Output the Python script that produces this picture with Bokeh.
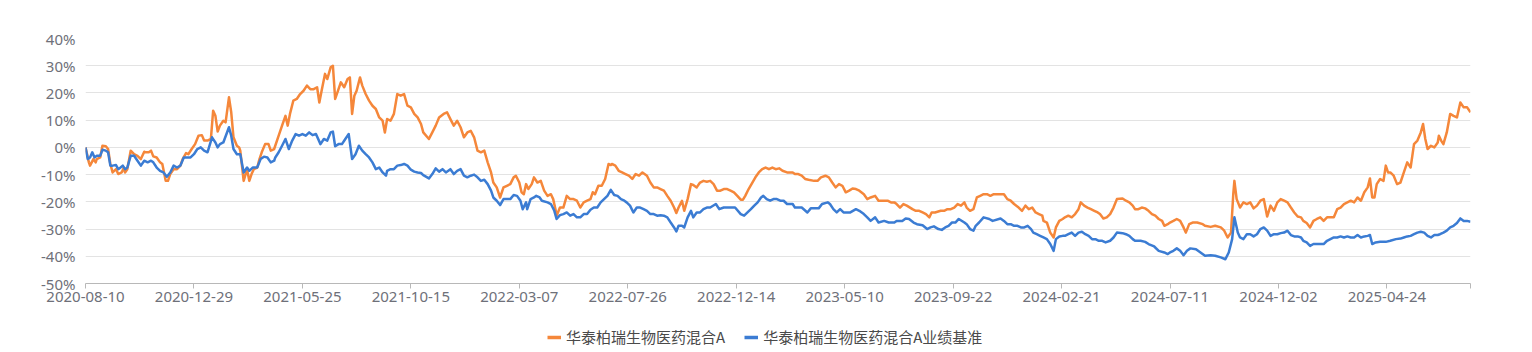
from bokeh.plotting import figure
from bokeh.layouts import column
from bokeh.models import FixedTicker, PrintfTickFormatter, Legend, LegendItem, Range1d
from bokeh.embed import file_html
from bokeh.resources import INLINE

# trading-day index of each reading, and cumulative return (%)
fund_idx = [0, 3, 4, 7, 9, 10, 13, 15, 18, 20, 22, 24, 27, 29, 32, 34, 35, 37, 40, 43, 46, 49, 52, 53, 56, 58, 60, 63, 66, 68, 71, 73, 75, 78, 81, 84, 86, 89, 91, 94, 97, 100, 103, 105, 108, 111, 113, 115, 117, 119, 122, 124, 127, 129, 131, 134, 136, 137, 140, 143, 145, 147, 149, 152, 154, 156, 159, 162, 164, 167,
            171, 174, 177, 179, 181, 184, 187, 190, 193, 196, 199, 202, 205, 207, 209, 212, 214, 217, 219, 221, 223, 226, 229, 232, 234, 236, 238, 240, 243, 245, 248, 251, 254, 257, 260, 263, 265, 267, 270, 273, 276, 279, 282, 285, 288, 291, 294, 297, 299, 304, 307, 310, 313, 317, 320, 323, 326, 329, 332, 335, 338, 341, 344, 347, 350, 353, 356, 359, 361, 364, 367, 370, 373, 376,
            379, 381, 384, 386, 388, 390, 392, 395, 397, 400, 403, 406, 409, 412, 414, 416, 417, 420, 423, 426, 429, 432, 435, 438, 441, 444, 447, 449, 451, 454, 457, 460, 463, 465, 466, 469, 472, 475, 478, 481, 484, 487, 490, 493, 497, 500, 503, 506, 509, 512, 515, 518, 521, 523, 525, 528, 530, 533, 536, 538, 541, 544, 547, 550, 553, 556, 559, 562, 565, 568, 571, 574, 577, 580, 582, 584, 587,
            593, 596, 599, 602, 605, 608, 611, 614, 617, 621, 626, 628, 631, 634, 637, 640, 645, 648, 651, 655, 658, 661, 664, 667, 670, 673, 676, 679, 682, 685, 689, 692, 695, 699, 702, 705, 710, 713, 716, 718, 721, 724, 727, 732, 735, 738, 741, 744, 747, 749, 752, 757, 760, 763, 766, 769, 772, 775, 778, 780, 783, 786, 789, 792, 795, 798, 801,
            804, 807, 810, 813, 816, 819, 822, 826, 829, 832, 835, 838, 841, 844, 847, 848, 851, 854, 857, 859, 862, 865, 867, 870, 873, 876, 879, 881, 884, 887, 890, 893, 896, 898, 901, 904, 907, 910, 913, 918, 921, 924, 927, 929, 932, 935, 938, 941, 944, 947, 950, 953, 955, 958, 960, 963, 966, 969, 972, 974, 977, 980, 984, 989, 991, 996, 1000, 1005, 1008, 1011, 1014,
            1016, 1017, 1019, 1022, 1025, 1028, 1031, 1034, 1037, 1040, 1043, 1046, 1049, 1052, 1055, 1058, 1061, 1064, 1067, 1070, 1073, 1076, 1078, 1081, 1084, 1087, 1090, 1093, 1096, 1099, 1102, 1105, 1108, 1111, 1114, 1117, 1120, 1123, 1126, 1129, 1132, 1135, 1137, 1139, 1141, 1143, 1146, 1149, 1151, 1153, 1155, 1158, 1161, 1164, 1167, 1170, 1173, 1176, 1179, 1182, 1184, 1186, 1188, 1191, 1194, 1197, 1198, 1200, 1202, 1205, 1208, 1211, 1214, 1217, 1220, 1223, 1226]
fund_pct = [0.0, -5.5, -6.7, -4.3, -5.5, -4.3, -3.7, 0.6, 0.4, -0.6, -6.1, -9.2, -8.0, -9.8, -9.2, -7.4, -9.2, -8.0, -1.2, -2.5, -3.1, -4.3, -1.6, -1.8, -1.8, -1.2, -3.3, -3.7, -5.5, -6.1, -12.3, -12.3, -9.8, -8.0, -8.0, -6.7, -4.3, -2.1, -2.5, -0.6, 1.2, 4.3, 4.5, 2.5, 2.5, 3.1, 13.5, 11.6, 5.8, 8.0, 9.8, 9.2, 18.4, 12.9, 3.7, 0.6, 0.0, -1.2, -12.3, -8.0, -12.3, -9.8, -8.0, -7.4, -4.3, -1.8, 1.2, 1.2, -1.2, -0.6,
            4.3, 8.0, 11.6, 8.0, 12.3, 17.2, 17.8, 19.6, 20.8, 22.7, 21.4, 21.4, 22.1, 16.5, 20.8, 27.0, 25.1, 29.4, 30.0, 17.8, 20.2, 23.9, 22.1, 25.1, 25.7, 12.3, 19.0, 20.8, 25.7, 22.7, 19.6, 17.2, 15.3, 14.1, 11.0, 9.8, 5.5, 10.4, 9.8, 12.3, 19.6, 19.0, 19.6, 15.3, 14.7, 12.3, 11.0, 8.6, 5.5, 3.1, 5.5, 8.0, 11.0, 12.3, 12.9, 10.4, 8.0, 9.8, 7.4, 3.7, 5.5, 6.1, 3.7, -1.2, -1.8, -1.2, -5.5, -9.2, -12.9, -14.7, -18.4, -14.7, -14.1, -13.5,
            -11.0, -10.4, -12.9, -16.5, -17.2, -13.5, -15.3, -13.5, -11.0, -12.9, -12.3, -15.9, -17.8, -17.2, -19.0, -22.7, -25.1, -22.1, -22.1, -17.8, -19.0, -19.0, -19.6, -22.1, -20.2, -19.6, -19.0, -16.5, -17.2, -14.1, -14.1, -11.6, -6.1, -6.5, -6.1, -6.7, -8.6, -9.2, -9.8, -10.4, -11.6, -9.8, -10.4, -9.2, -10.4, -12.9, -14.7, -14.7, -15.3, -15.9, -17.8, -19.6, -22.1, -24.1, -22.1, -19.6, -23.3, -19.0, -13.5, -13.8, -14.7, -12.9, -12.3, -12.6, -12.3, -13.5, -15.9, -15.9, -15.3, -15.3, -15.9, -16.5, -17.8, -19.2, -19.2, -17.8, -15.3,
            -11.0, -9.2, -8.0, -7.4, -8.0, -7.4, -8.0, -7.7, -8.6, -9.2, -9.2, -9.8, -9.8, -10.4, -11.6, -11.9, -12.3, -12.3, -11.0, -10.4, -11.0, -12.9, -14.7, -13.5, -14.1, -16.5, -15.9, -15.1, -15.3, -15.9, -17.2, -19.0, -18.4, -17.8, -19.6, -19.6, -19.6, -20.2, -20.2, -20.8, -22.1, -20.8, -21.4, -22.7, -23.3, -23.3, -23.9, -24.5, -25.7, -23.9, -23.9, -23.3, -23.3, -22.7, -22.7, -22.1, -20.8, -21.4, -20.2, -22.1, -23.3, -22.7, -18.4, -17.8, -17.2, -17.2, -17.8,
            -17.2, -17.2, -17.2, -17.2, -19.0, -19.6, -20.8, -22.1, -23.3, -21.4, -22.7, -22.1, -23.9, -24.5, -25.1, -27.0, -27.6, -31.3, -33.1, -29.4, -27.0, -26.3, -25.7, -25.1, -25.7, -24.5, -22.7, -20.2, -21.4, -22.1, -22.7, -23.3, -23.9, -24.5, -26.1, -25.7, -24.5, -22.1, -19.0, -18.8, -19.6, -20.2, -21.4, -22.7, -22.7, -22.1, -22.4, -23.3, -24.5, -25.1, -26.3, -27.0, -28.8, -28.2, -27.6, -27.0, -26.3, -27.0, -29.4, -31.3, -28.2, -27.6, -27.6, -28.2, -28.8, -29.2, -28.8, -29.4, -30.6, -33.1, -31.3,
            -17.2, -12.3, -19.0, -22.1, -20.2, -20.8, -20.2, -22.4, -21.4, -19.6, -19.0, -25.4, -21.4, -23.3, -20.2, -19.0, -19.6, -20.2, -22.1, -23.9, -25.4, -25.7, -27.0, -27.8, -29.4, -27.0, -26.3, -25.7, -27.0, -25.7, -25.7, -25.7, -22.7, -22.1, -20.8, -20.2, -19.6, -20.2, -18.4, -19.6, -16.5, -14.7, -11.4, -18.4, -18.4, -13.5, -11.6, -12.3, -6.7, -9.2, -9.2, -10.4, -13.5, -12.9, -9.2, -5.5, -7.4, 1.2, 2.5, 5.5, 8.6, 3.1, -0.6, 0.6, 0.0, 1.8, 4.3, 2.5, 1.2, 5.5, 12.3, 11.6, 11.0, 16.5, 14.7, 14.7, 12.9]

bench_idx = [0, 2, 4, 6, 8, 10, 13, 15, 18, 20, 22, 24, 27, 29, 31, 33, 35, 37, 40, 43, 46, 49, 52, 55, 58, 60, 63, 66, 69, 72, 75, 78, 81, 84, 87, 90, 93, 96, 99, 102, 105, 108, 112, 115, 117, 119, 122, 127, 129, 131, 134, 137, 140, 143, 145, 148, 152, 155, 158, 161, 164, 167,
             168, 171, 174, 177, 180, 183, 186, 189, 192, 195, 198, 201, 204, 208, 211, 214, 217, 219, 221, 224, 227, 230, 233, 236, 239, 242, 245, 248, 251, 254, 257, 260, 263, 266, 267, 270, 273, 276, 279, 282, 285, 288, 291, 294, 297, 299, 304, 307, 310, 313, 316, 319, 323, 326, 329, 332, 335, 338, 341, 344, 347, 350, 353, 356, 359, 361, 364, 367, 370, 373, 376,
             379, 382, 385, 387, 390, 391, 394, 397, 399, 402, 404, 409, 412, 415, 417, 420, 423, 426, 429, 432, 435, 438, 441, 444, 447, 450, 453, 456, 459, 462, 465, 468, 471, 474, 477, 479, 482, 485, 488, 491, 494, 497, 500, 503, 506, 509, 512, 515, 518, 521, 523, 525, 528, 530, 533, 536, 538, 541, 544, 547, 550, 553, 558, 561, 565, 571, 575, 580, 583, 586, 589,
             592, 595, 598, 600, 603, 606, 609, 612, 615, 618, 621, 626, 628, 631, 634, 639, 642, 645, 649, 652, 657, 659, 662, 665, 668, 671, 674, 677, 682, 685, 689, 692, 695, 699, 702, 707, 711, 716, 718, 723, 726, 729, 733, 736, 741, 745, 748, 751, 755, 758, 761, 764, 767, 770, 773, 778, 780, 783, 786, 788, 791, 795, 800, 803,
             810, 813, 816, 819, 822, 825, 828, 831, 834, 837, 839, 842, 845, 848, 851, 854, 857, 859, 862, 865, 867, 870, 873, 876, 879, 882, 885, 888, 891, 894, 897, 900, 903, 907, 910, 913, 918, 921, 924, 927, 929, 934, 938, 941, 946, 950, 955, 958, 960, 963, 966, 969, 972, 975, 978, 983, 987, 991, 996, 1000, 1005, 1009, 1012, 1015,
             1017, 1020, 1022, 1025, 1028, 1031, 1034, 1037, 1040, 1043, 1046, 1049, 1052, 1055, 1058, 1061, 1064, 1067, 1070, 1073, 1076, 1078, 1081, 1084, 1087, 1090, 1093, 1096, 1099, 1102, 1105, 1108, 1111, 1114, 1117, 1120, 1123, 1126, 1129, 1132, 1135, 1137, 1139, 1142, 1146, 1151, 1155, 1160, 1164, 1167, 1170, 1173, 1176, 1179, 1182, 1185, 1188, 1191, 1194, 1197, 1199, 1202, 1205, 1208, 1211, 1214, 1217, 1220, 1223, 1226]
bench_pct = [0.0, -4.3, -3.7, -1.8, -3.7, -3.1, -3.1, -0.9, -1.2, -1.8, -6.7, -6.7, -6.5, -8.0, -7.4, -6.7, -8.0, -7.4, -3.1, -3.1, -4.9, -6.7, -4.9, -5.5, -4.9, -5.5, -7.4, -8.6, -9.2, -10.8, -9.2, -6.7, -7.4, -6.7, -3.7, -3.7, -3.7, -2.5, -0.6, 0.0, -1.2, -1.8, 3.7, 1.8, 0.0, 1.2, 1.8, 7.4, 4.3, -0.6, -2.5, -2.5, -9.2, -7.4, -8.6, -7.4, -7.4, -4.3, -3.4, -3.7, -5.5, -4.9,
             -3.7, -1.8, 0.6, 3.1, -0.6, 2.5, 4.9, 4.3, 4.9, 4.3, 5.5, 4.5, 4.9, 1.2, 3.1, 2.5, 5.5, 5.8, 0.4, 1.2, 1.2, 3.1, 4.9, -4.3, -2.5, 0.6, -1.2, -2.5, -3.7, -5.5, -8.0, -7.4, -9.2, -10.4, -8.6, -8.0, -8.0, -6.7, -6.5, -6.1, -6.7, -8.2, -8.9, -9.2, -9.4, -10.2, -11.4, -9.8, -7.7, -8.9, -8.0, -9.2, -8.0, -9.8, -8.6, -8.0, -10.4, -11.0, -10.4, -10.0, -11.0, -12.3, -11.9, -13.5, -15.9, -18.4, -19.6, -21.2, -19.0, -19.0, -19.0,
             -17.5, -17.8, -19.6, -22.7, -20.2, -22.7, -19.0, -18.4, -17.8, -18.4, -19.6, -20.2, -20.8, -23.3, -26.3, -24.9, -24.5, -23.9, -25.1, -24.5, -25.7, -25.7, -24.5, -24.5, -22.9, -22.1, -22.1, -20.2, -19.0, -17.8, -15.6, -17.5, -17.8, -19.0, -19.6, -20.2, -21.4, -23.9, -22.1, -22.1, -22.7, -23.3, -24.5, -24.5, -25.1, -24.9, -25.1, -25.7, -27.6, -29.4, -30.9, -28.8, -28.8, -29.4, -25.7, -23.3, -25.7, -23.9, -23.9, -22.7, -22.1, -22.1, -20.8, -22.7, -22.1, -22.1, -22.1, -24.5, -25.1, -23.9, -22.7,
             -21.4, -20.2, -18.4, -17.8, -19.0, -19.6, -19.0, -19.0, -19.6, -19.6, -20.8, -20.8, -22.1, -22.1, -22.1, -23.9, -22.4, -22.4, -22.4, -20.8, -20.2, -20.8, -22.7, -23.9, -22.7, -23.9, -23.9, -23.9, -22.7, -23.3, -24.5, -25.7, -27.0, -25.7, -27.6, -27.0, -27.6, -27.6, -27.0, -27.0, -26.1, -26.3, -27.6, -28.2, -28.6, -30.0, -29.4, -29.0, -30.0, -30.3, -29.4, -28.8, -27.6, -27.6, -26.3, -27.6, -28.2, -30.0, -30.6, -28.8, -27.6, -25.7, -26.3, -27.0,
             -26.1, -27.0, -28.2, -28.2, -28.8, -28.8, -29.4, -29.4, -28.8, -30.0, -31.3, -31.9, -32.5, -33.1, -33.7, -35.5, -38.0, -33.7, -32.7, -32.5, -32.5, -31.9, -31.3, -32.5, -31.3, -31.0, -31.9, -32.5, -33.7, -33.7, -34.3, -34.3, -34.9, -34.3, -33.1, -31.3, -31.5, -31.9, -32.5, -33.7, -34.3, -34.3, -34.7, -35.5, -36.4, -38.0, -38.6, -39.2, -38.6, -38.0, -37.1, -38.0, -39.6, -38.0, -37.1, -37.4, -38.6, -39.8, -39.6, -39.8, -40.4, -41.1, -38.6, -33.7,
             -25.7, -31.3, -33.1, -33.7, -31.9, -31.9, -32.7, -31.9, -30.0, -29.4, -30.6, -32.5, -31.9, -31.9, -31.5, -31.3, -30.6, -32.2, -32.7, -32.7, -33.1, -34.3, -34.9, -36.2, -35.5, -35.5, -35.5, -35.5, -34.3, -33.7, -33.1, -33.1, -32.7, -33.1, -32.7, -33.1, -33.1, -32.2, -33.1, -32.7, -32.5, -32.2, -35.5, -34.9, -34.7, -34.7, -34.3, -33.7, -33.5, -33.1, -32.7, -32.5, -31.9, -31.3, -31.0, -31.3, -32.5, -33.1, -32.2, -32.2, -31.9, -31.3, -30.6, -29.4, -28.8, -27.8, -26.1, -27.0, -27.0, -27.3]

tick_idx = [0, 96, 192, 288, 384, 480, 576, 672, 768, 864, 960, 1056, 1152]
tick_labels = ["2020-08-10", "2020-12-29", "2021-05-25", "2021-10-15", "2022-03-07", "2022-07-26",
               "2022-12-14", "2023-05-10", "2023-09-22", "2024-02-21", "2024-07-11", "2024-12-02", "2025-04-24"]
last_idx = 1226
y_ticks = [-50, -40, -30, -20, -10, 0, 10, 20, 30, 40]
series_names = ["华泰柏瑞生物医药混合A", "华泰柏瑞生物医药混合A业绩基准"]
colors = ["#F5873A", "#3B7CD3"]

p = figure(width=1532, height=312, output_backend="svg", toolbar_location=None,
           x_range=Range1d(0, last_idx), y_range=Range1d(-50, 40),
           min_border_left=85, min_border_right=62, min_border_top=38, min_border_bottom=29)
p.outline_line_color = None
p.background_fill_color = "white"
p.border_fill_color = "white"

r1 = p.line(fund_idx, fund_pct, line_color=colors[0], line_width=2.5, line_join="round")
r2 = p.line(bench_idx, bench_pct, line_color=colors[1], line_width=2.5, line_join="round")

p.xgrid.visible = False
p.ygrid.grid_line_color = "#E3E3E3"
p.ygrid.grid_line_width = 1

ya = p.yaxis[0]
ya.ticker = FixedTicker(ticks=y_ticks)
ya.formatter = PrintfTickFormatter(format="%d%%")
ya.axis_line_color = None
ya.major_tick_line_color = None
ya.minor_tick_line_color = None
ya.major_tick_out = 0
ya.major_label_standoff = 10
ya.major_label_text_font = "Noto Sans"
ya.major_label_text_font_size = "15px"
ya.major_label_text_color = "#6E7079"

xa = p.xaxis[0]
xa.ticker = FixedTicker(ticks=tick_idx + [last_idx])
overrides = {t: lab for t, lab in zip(tick_idx, tick_labels)}
overrides[last_idx] = ""
xa.major_label_overrides = overrides
xa.axis_line_color = "#B8B8B8"
xa.major_tick_line_color = "#B8B8B8"
xa.minor_tick_line_color = None
xa.major_tick_out = 5
xa.major_tick_in = 0
xa.major_label_standoff = 3
xa.major_label_text_font = "Noto Sans"
xa.major_label_text_font_size = "15px"
xa.major_label_text_color = "#6E7079"

# legend strip below the chart; its lines use the same series but lie outside
# the strip's visible y range, so only the legend keys show
lg = figure(width=1532, height=40, output_backend="svg", toolbar_location=None,
            x_axis_type=None, y_axis_type=None,
            x_range=Range1d(0, last_idx), y_range=Range1d(1000, 1001),
            min_border=0, min_border_left=0, min_border_right=0, min_border_top=0, min_border_bottom=0)
lg.grid.visible = False
lg.outline_line_color = None
lg.border_fill_color = "white"
k1 = lg.line(fund_idx, fund_pct, line_color=colors[0], line_width=3.5)
k2 = lg.line(bench_idx, bench_pct, line_color=colors[1], line_width=3.5)
legend = Legend(items=[LegendItem(label=series_names[0], renderers=[k1]),
                       LegendItem(label=series_names[1], renderers=[k2])],
                orientation="horizontal", location=(462, 5),
                border_line_color=None, background_fill_alpha=0,
                label_text_font="Noto Sans CJK SC", label_text_font_size="15px",
                label_text_color="#4A4A4A", glyph_width=14, glyph_height=20,
                label_standoff=5, spacing=19, padding=4, margin=0)
lg.add_layout(legend)

layout = column(p, lg, spacing=0)
open("out.html", "w").write(file_html(layout, INLINE))
